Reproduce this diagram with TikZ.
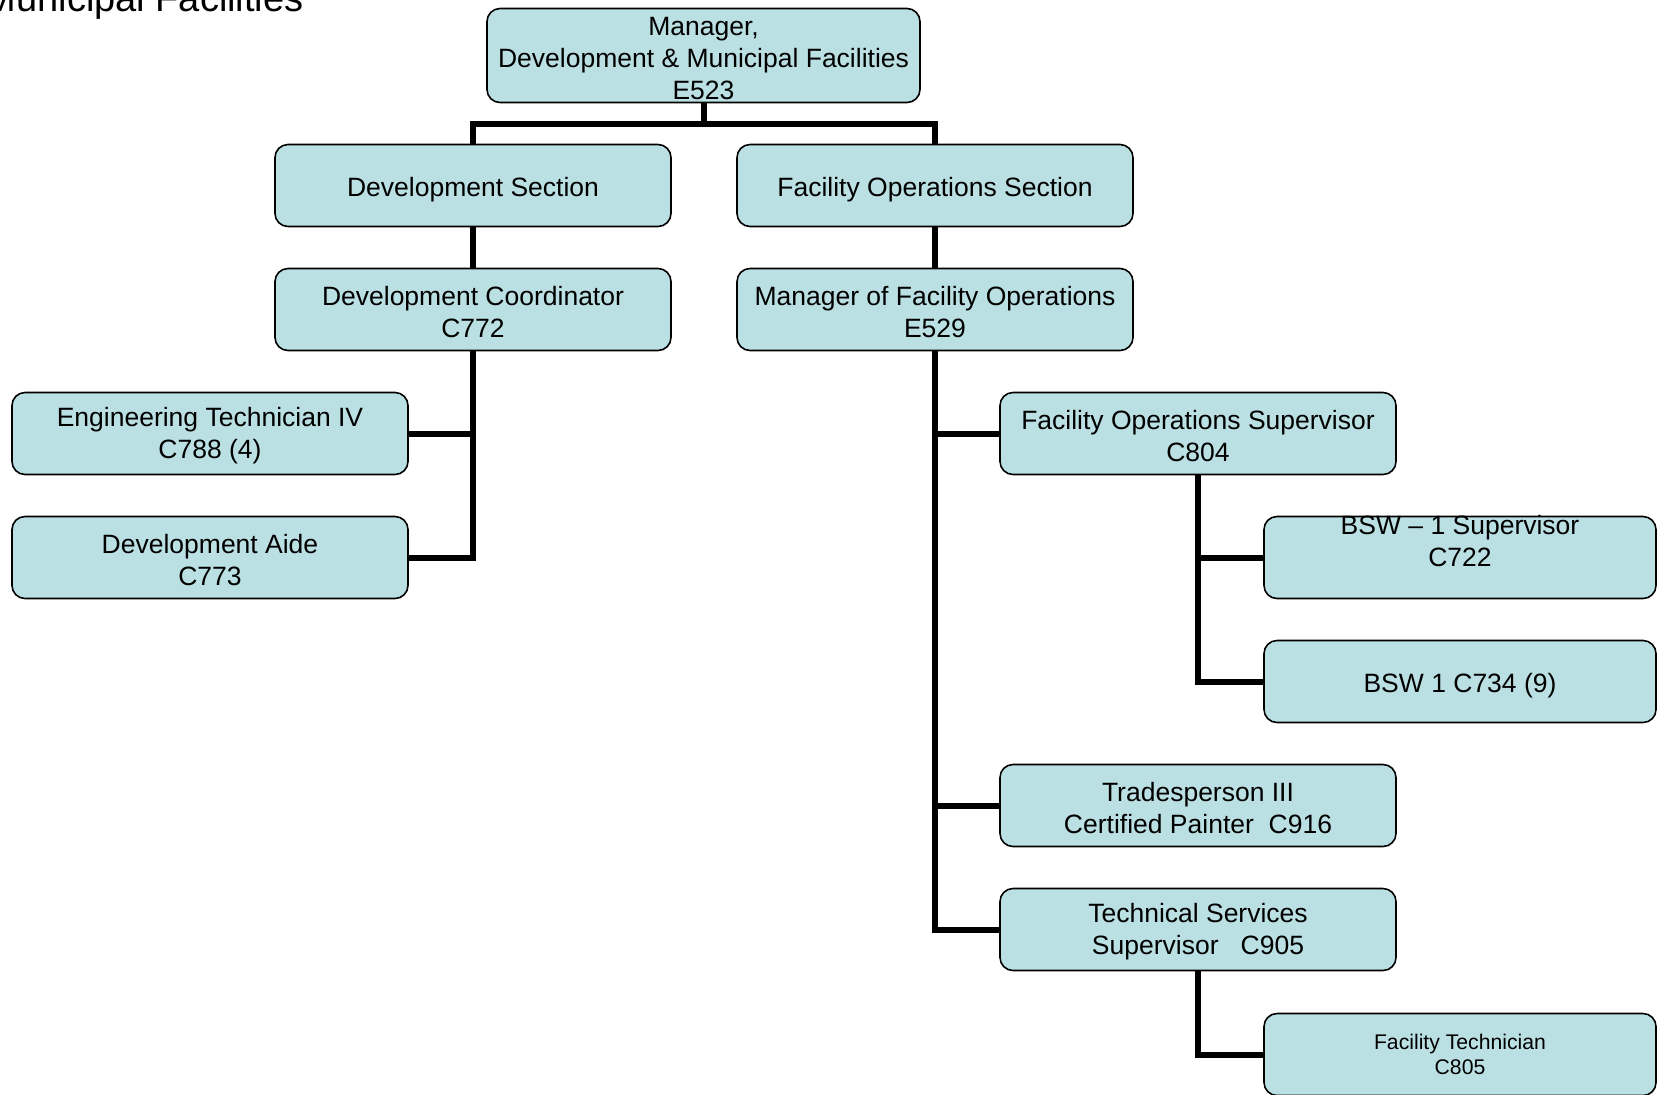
\documentclass[tikz,border=0pt]{standalone}
\usepackage{fontspec}
\setmainfont{Liberation Sans}
\definecolor{boxfill}{HTML}{BBE0E3}

\begin{document}
\begin{tikzpicture}[x=0.5pt,y=-0.5pt,
  post/.style={draw,line width=0.8pt,rounded corners=6.5pt,fill=boxfill,align=center,inner sep=1pt,
    minimum width=198pt,minimum height=41pt,text height=27.8pt,font=\fontsize{13.25}{16}\selectfont},
  single/.style={text height=13.9pt},
  link/.style={line width=3pt,line join=miter}]

\useasboundingbox (0,0) rectangle (1657,1094);
\clip (0,0) rectangle (1657,1094);

\node[anchor=base east,inner sep=0pt,font=\fontsize{19}{22}\selectfont] (title) at (304,11.5) {Municipal Facilities};

\begin{scope}
\node[post,minimum width=216.5pt,minimum height=47pt,text height=43.8pt] (mgr) at (703.5,55.5) {Manager,\\Development \& Municipal Facilities\\E523};

\node[post,single] (devsec) at (473,185.5) {Development Section};
\node[post,single] (facsec) at (935,185.5) {Facility Operations Section};

\node[post] (devco) at (473,309.5) {Development Coordinator\\C772};
\node[post] (mfo) at (935,309.5) {Manager of Facility Operations\\E529};

\node[post] (engtech) at (210,433.5) {Engineering Technician IV\\C788 (4)};
\node[post] (devaide) at (210,557.5) {Development Aide\\C773};

\node[post] (fosup) at (1198,433.5) {Facility Operations Supervisor\\C804};
\node[post,minimum width=196pt] (bswsup) at (1460,557.5) {};
\node[align=center,inner sep=1pt,font=\fontsize{13.25}{16}\selectfont] (bswsuptext) at ([yshift=8pt]bswsup.center) {BSW – 1 Supervisor\\C722};
\node[post,single,minimum width=196pt] (bsw) at (1460,681.5) {BSW 1 C734 (9)};

\node[post] (trades) at (1198,805.5) {Tradesperson III\\Certified Painter\ \ C916};
\node[post] (techsvc) at (1198,929.5) {Technical Services\\Supervisor\ \ \ C905};
\node[post,minimum width=196pt,text height=20.5pt,font=\fontsize{10.6}{12.5}\selectfont] (factech) at (1460,1054.5) {Facility Technician\\C805};

\coordinate (split) at (703.5,124);

\draw[link] (mgr.south) -- (split);
\draw[link] (devsec.north) |- (split) -| (facsec.north);

\draw[link] (devsec.south) -- (devco.north);
\draw[link] (facsec.south) -- (mfo.north);

\draw[link] (devco.south) |- (engtech.east);
\draw[link] (devco.south) |- (devaide.east);

\foreach \n in {fosup,trades,techsvc}
  \draw[link] (mfo.south) |- (\n.west);

\foreach \n in {bswsup,bsw}
  \draw[link] (fosup.south) |- (\n.west);

\draw[link] (techsvc.south) |- (factech.west);
\end{scope}

\end{tikzpicture}
\end{document}
